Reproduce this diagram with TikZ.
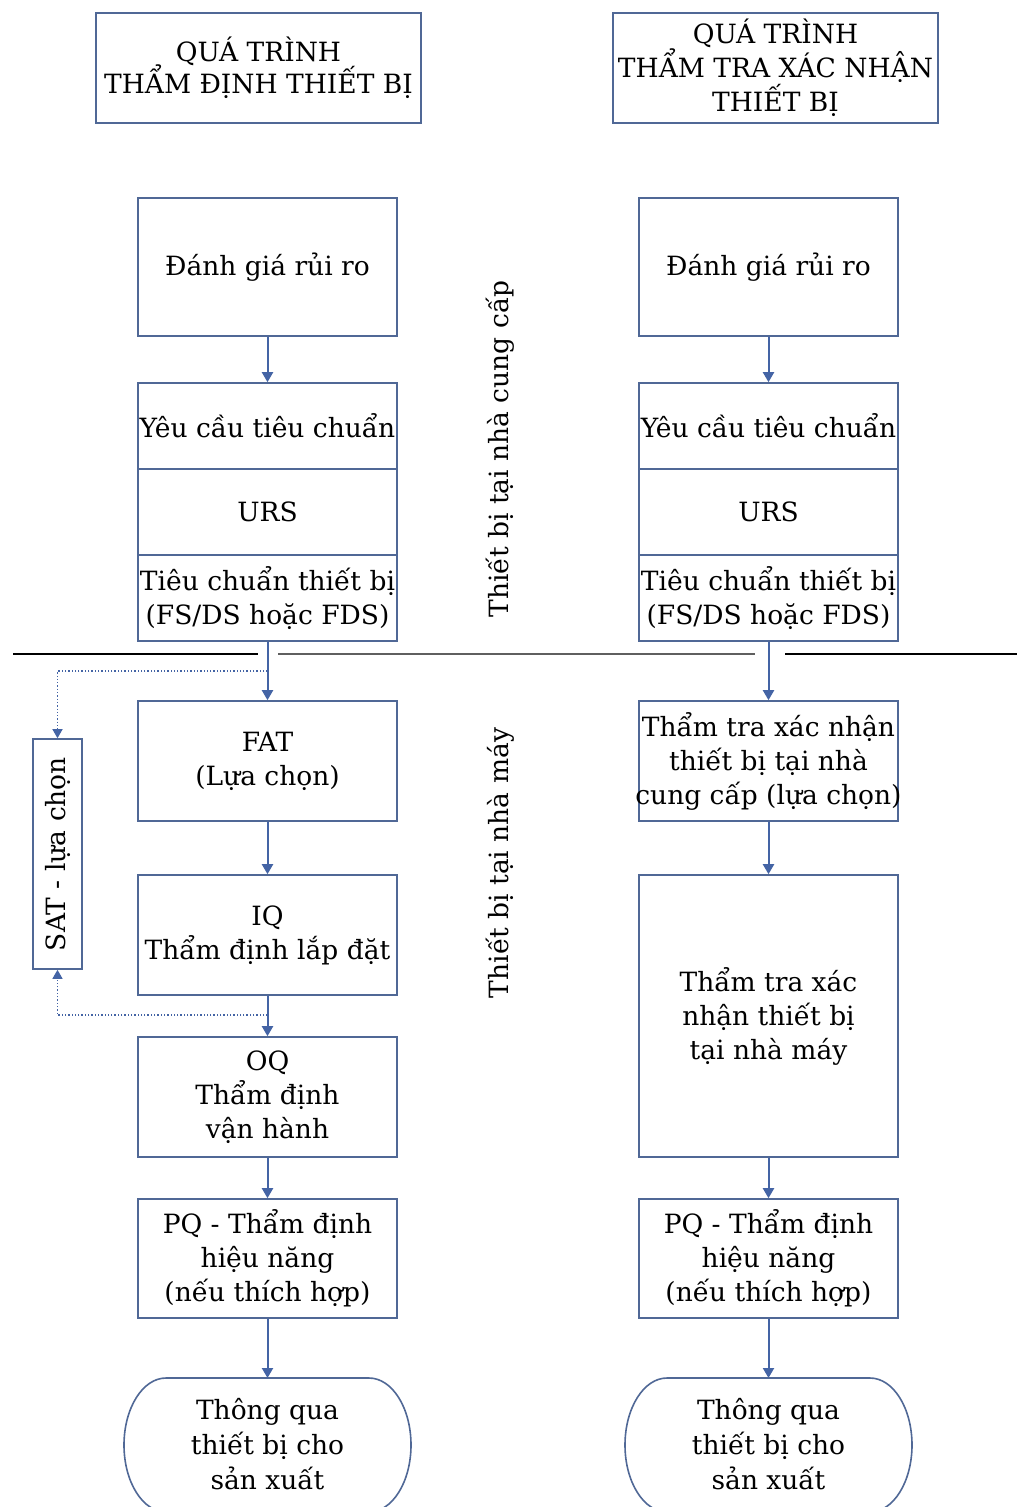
\documentclass[tikz,border=0pt]{standalone}
\usepackage{fontspec}
\setmainfont{DejaVu Serif}
\usetikzlibrary{arrows.meta}
\definecolor{bord}{RGB}{80,104,150}
\definecolor{arr}{RGB}{68,100,165}
\definecolor{sepgray}{RGB}{95,95,95}
\newcommand\fitline[1]{\makebox[0pt][c]{#1}}
\begin{document}
\begin{tikzpicture}[x=1pt,y=-1pt,
  txt/.style={font=\fontsize{26.5}{34}\selectfont},
  box/.style={txt,draw=bord,line width=1.6pt,inner sep=0pt,align=center,minimum width=259pt},
  hdr/.style={box,minimum width=325pt,minimum height=110pt},
  flow/.style={draw=arr,line width=2pt,-{Triangle[width=11pt,length=10pt]}},
  dotflow/.style={draw=arr,line width=1.3pt,dotted,-{Triangle[width=10pt,length=9pt]}},
  sep/.style={line width=2pt},
  term/.style={draw=bord,line width=1.6pt}
]
\useasboundingbox (0,0) rectangle (1017,1507);
\clip (0,0) rectangle (1017,1507);
\fill[white] (0,0) rectangle (1017,1507);

% headers
\node[hdr] (hL) at (258.5,68) {QUÁ TRÌNH\\[-2pt]THẨM ĐỊNH THIẾT BỊ};
\node[hdr] (hR) at (775.5,68) {QUÁ TRÌNH\\THẨM TRA XÁC NHẬN\\THIẾT BỊ};

% left column
\node[box,minimum height=138pt] (L1) at (267.5,267) {Đánh giá rủi ro};
\node[box,minimum height=86pt] (L2) at (267.5,426) {\fitline{Yêu cầu tiêu chuẩn}};
\node[box,minimum height=86pt] (L3) at (267.5,512) {URS};
\node[box,minimum height=86pt] (L4) at (267.5,598) {\fitline{Tiêu chuẩn thiết bị}\\(FS/DS hoặc FDS)};
\node[box,minimum height=120pt] (L5) at (267.5,761) {FAT\\(Lựa chọn)};
\node[box,minimum height=120pt] (L6) at (267.5,935) {IQ\\Thẩm định lắp đặt};
\node[box,minimum height=120pt] (L7) at (267.5,1097) {OQ\\Thẩm định\\vận hành};
\node[box,minimum height=119pt] (L8) at (267.5,1258.5) {PQ - Thẩm định\\hiệu năng\\(nếu thích hợp)};
\node[txt,align=center,font=\fontsize{26.5}{35}\selectfont] (L9) at (267.5,1444) {Thông qua\\thiết bị cho\\sản xuất};

% right column
\node[box,minimum height=138pt] (R1) at (768.5,267) {Đánh giá rủi ro};
\node[box,minimum height=86pt] (R2) at (768.5,426) {\fitline{Yêu cầu tiêu chuẩn}};
\node[box,minimum height=86pt] (R3) at (768.5,512) {URS};
\node[box,minimum height=86pt] (R4) at (768.5,598) {\fitline{Tiêu chuẩn thiết bị}\\(FS/DS hoặc FDS)};
\node[box,minimum height=120pt] (R5) at (768.5,761) {\fitline{Thẩm tra xác nhận}\\thiết bị tại nhà\\\fitline{cung cấp (lựa chọn)}};
\node[box,minimum height=282pt] (R6) at (768.5,1016) {Thẩm tra xác\\nhận thiết bị\\tại nhà máy};
\node[box,minimum height=119pt] (R7) at (768.5,1258.5) {PQ - Thẩm định\\hiệu năng\\(nếu thích hợp)};
\node[txt,align=center,font=\fontsize{26.5}{35}\selectfont] (R8) at (768.5,1444) {Thông qua\\thiết bị cho\\sản xuất};

% terminal outlines (flat top/bottom, elliptical sides)
\foreach \cx in {267.5,768.5}{
  \draw[term] (\cx-101.5,1378) -- (\cx+101.5,1378)
    .. controls (\cx+124.7,1378) and (\cx+143.5,1408) .. (\cx+143.5,1445)
    .. controls (\cx+143.5,1482) and (\cx+124.7,1512) .. (\cx+101.5,1512)
    -- (\cx-101.5,1512)
    .. controls (\cx-124.7,1512) and (\cx-143.5,1482) .. (\cx-143.5,1445)
    .. controls (\cx-143.5,1408) and (\cx-124.7,1378) .. cycle;
}

% SAT box
\node[txt,draw=bord,line width=1.6pt,minimum width=49pt,minimum height=230pt,inner sep=0pt] (sat) at (57.5,854) {\rotatebox{90}{SAT - lựa chọn}};

% side labels
\node[txt,rotate=90] (lab1) at (500,449) {Thiết bị tại nhà cung cấp};
\node[txt,rotate=90] (lab2) at (500,863) {Thiết bị tại nhà máy};

% separator line
\draw[sep,black] (13,654) -- (258,654);
\draw[sep,sepgray] (278,654) -- (755,654);
\draw[sep,black] (785,654) -- (1017,654);

% flows left
\draw[flow] (L1) -- (L2);
\draw[flow] (L4) -- (L5);
\draw[flow] (L5) -- (L6);
\draw[flow] (L6) -- (L7);
\draw[flow] (L7) -- (L8);
\draw[flow] (L8.south) -- (267.5,1378);
% flows right
\draw[flow] (R1) -- (R2);
\draw[flow] (R4) -- (R5);
\draw[flow] (R5) -- (R6);
\draw[flow] (R6) -- (R7);
\draw[flow] (R7.south) -- (768.5,1378);

% SAT dotted connectors
\coordinate (d1) at (267.5,671);
\coordinate (d2) at (267.5,1015);
\draw[dotflow] (d1) -| (sat.north);
\draw[dotflow] (d2) -| (sat.south);
\end{tikzpicture}
\end{document}
